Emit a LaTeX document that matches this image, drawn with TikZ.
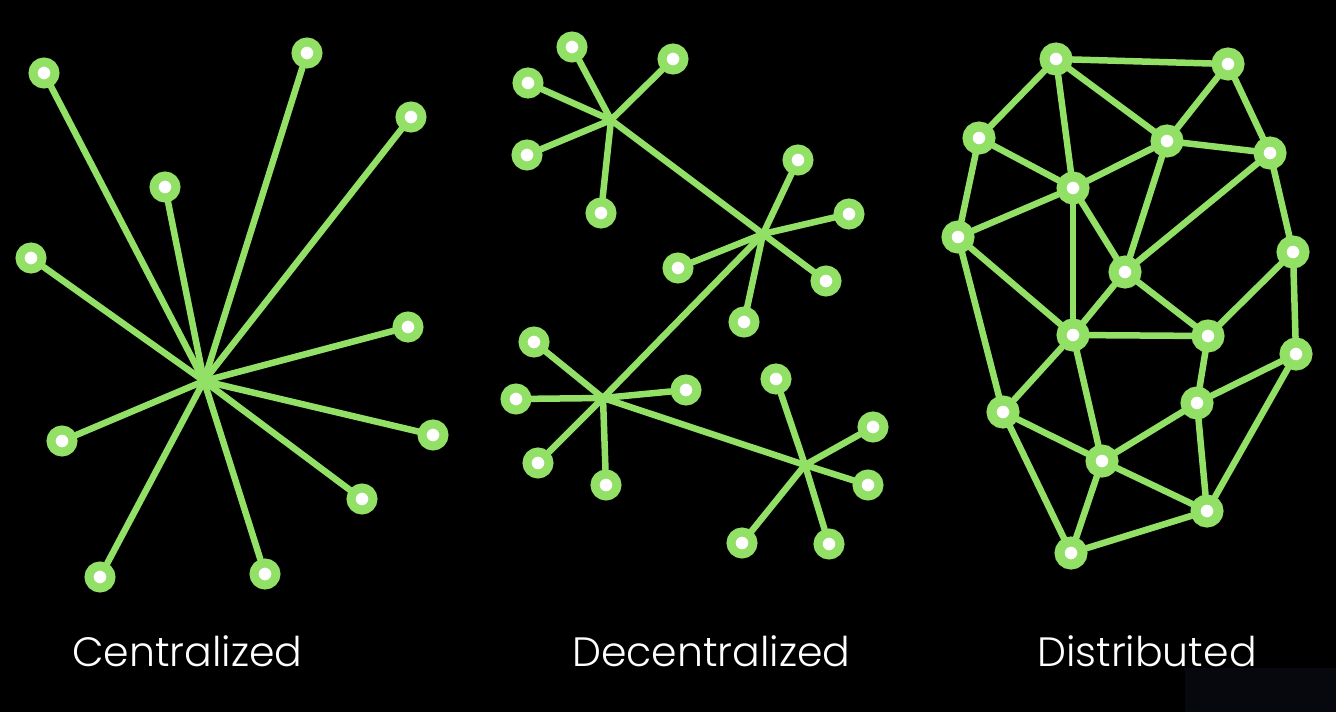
\documentclass[tikz,border=0pt]{standalone}
\usepackage{fontspec}
\setmainfont{Poppins}[UprightFont=* Light]
\usetikzlibrary{backgrounds}
\definecolor{lime}{RGB}{146,225,102}
\definecolor{corner}{RGB}{6,8,14}
\tikzset{
  dot/.style={circle, draw=lime, fill=white, line width=9pt, inner sep=0pt, minimum size=22pt},
  bigdot/.style={dot, line width=10pt, minimum size=23pt},
  link/.style={draw=lime, line width=6.5pt, line cap=round},
  caption/.style={text=white, anchor=base west, inner sep=0pt, font=\fontsize{41}{41}\selectfont}
}
\begin{document}
\begin{tikzpicture}[x=1pt, y=-1pt]
\begin{scope}[on background layer]
\fill[black] (0,0) rectangle (1336,712);
\fill[corner] (1185,668) rectangle (1336,712);
\end{scope}
\useasboundingbox (0,0) rectangle (1336,712);

% ---------- Centralized ----------
\coordinate (c0) at (204,381);
\foreach \n/\x/\y in {1/44/73, 2/307/53, 3/411/117, 4/165/187, 5/31/258, 6/408/327, 7/62/441, 8/433/435, 9/362/499, 10/100/577, 11/265/574}
  \node[dot] (c\n) at (\x,\y) {};
\begin{scope}[on background layer]
\foreach \n in {1,...,11} \draw[link] (c0) -- (c\n);
\end{scope}

% ---------- Decentralized ----------
\coordinate (h1) at (611,120);
\coordinate (h2) at (763,234);
\coordinate (h3) at (603,398);
\coordinate (h4) at (805,465);
\foreach \n/\x/\y in {1/572/47, 2/673/59, 3/528/83, 4/527/155, 5/601/213}
  \node[dot] (a\n) at (\x,\y) {};
\foreach \n/\x/\y in {1/798/160, 2/849/214, 3/678/268, 4/826/281, 5/744/322}
  \node[dot] (b\n) at (\x,\y) {};
\foreach \n/\x/\y in {1/534/342, 2/516/399, 3/686/390, 4/538/463, 5/606/485}
  \node[dot] (d\n) at (\x,\y) {};
\foreach \n/\x/\y in {1/776/379, 2/873/427, 3/868/485, 4/742/543, 5/829/544}
  \node[dot] (e\n) at (\x,\y) {};
\begin{scope}[on background layer]
\foreach \n in {1,...,5} {
  \draw[link] (h1) -- (a\n);
  \draw[link] (h2) -- (b\n);
  \draw[link] (h3) -- (d\n);
  \draw[link] (h4) -- (e\n);
}
\draw[link] (h1) -- (h2);
\draw[link] (h2) -- (h3);
\draw[link] (h3) -- (h4);
\end{scope}

% ---------- Distributed ----------
\foreach \n/\x/\y in {A/1056/59, B/1228/64, C/979/138, D/1167/141, E/1270/153, F/1073/188, G/958/237, H/1125/272, I/1293/252, J/1073/335, K/1208/336, L/1296/354, M/1003/412, N/1197/403, O/1102/461, P/1207/511, Q/1071/553}
  \node[bigdot] (\n) at (\x,\y) {};
\begin{scope}[on background layer]
\foreach \u/\v in {A/B, A/C, A/F, A/D, B/D, B/E, C/F, C/G, D/E, D/F, D/H, F/G, F/J, F/H, E/I, E/H, G/J, G/M, H/J, H/K, I/K, I/L, J/K, J/M, J/O, K/N, N/L, N/O, N/P, L/P, M/O, M/Q, O/Q, O/P, Q/P}
  \draw[link] (\u) -- (\v);
\end{scope}

% ---------- Captions ----------
\node[caption] (t1) at (72,666) {Centralized};
\node[caption] (t2) at (572,666) {Decentralized};
\node[caption] (t3) at (1037,666) {Distributed};
\end{tikzpicture}
\end{document}
